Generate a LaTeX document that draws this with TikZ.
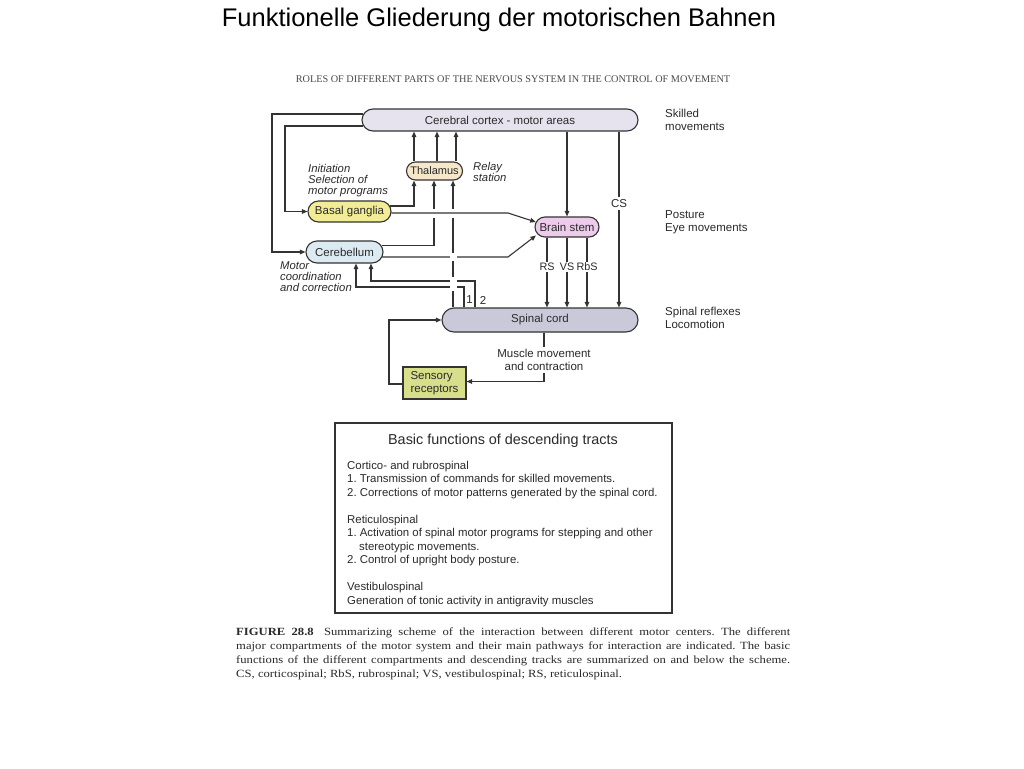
\documentclass[tikz,border=0pt]{standalone}
\usepackage{fontspec}
\setmainfont{Liberation Sans}
\newfontfamily\capserif{Liberation Serif}
\newfontfamily\capwide[FakeStretch=1.15]{Liberation Serif}
\usetikzlibrary{arrows.meta}
\definecolor{ln}{HTML}{333333}
\definecolor{tx}{HTML}{2A2A2A}
\definecolor{cxfill}{HTML}{E6E3EE}
\definecolor{thfill}{HTML}{F6E6CA}
\definecolor{bgfill}{HTML}{F2EC96}
\definecolor{bsfill}{HTML}{ECCBEB}
\definecolor{cbfill}{HTML}{DCEBF2}
\definecolor{scfill}{HTML}{C9C9D9}
\definecolor{srfill}{HTML}{D8DF8A}
\definecolor{hd}{HTML}{4A4A4A}
\newcommand\dgfont{\fontsize{11.5}{13}\selectfont}
\newcommand\itlfont{\fontsize{11.3}{11}\selectfont\itshape}
\newcommand\bxfont{\fontsize{11.4}{13.5}\selectfont\frenchspacing}
\newcommand\cpfont{\capwide\fontsize{11}{14}\selectfont\frenchspacing}
\tikzset{
  pill/.style={draw=ln, line width=1.1pt, inner sep=0pt, font=\dgfont, text=tx},
  lbl/.style={font=\dgfont, text=tx, inner sep=1pt, align=left},
  tlbl/.style={font=\fontsize{10.8}{13}\selectfont, text=tx, fill=white, inner sep=1pt, text height=8pt, text depth=0.5pt},
  ilbl/.style={font=\itlfont, text=tx, inner sep=0pt, align=left, anchor=west},
  arr/.style={draw=ln, line width=1.1pt, -{Triangle[length=5.5pt,width=4.5pt]}},
  con/.style={draw=ln, line width=1.1pt},
  gap/.style={fill=white, draw=none},
  capline/.style={font=\cpfont, text=tx, inner sep=0pt, anchor=base west}
}
\begin{document}
\begin{tikzpicture}[x=1pt,y=-1pt]
\useasboundingbox[fill=white] (0,0) rectangle (1024,768);

% title and header
\node[font=\fontsize{25.5}{30}\selectfont, inner sep=0pt] (title) at (499,20) {Funktionelle Gliederung der motorischen Bahnen};
\node[font=\capserif\fontsize{10.25}{12}\selectfont, text=hd, inner sep=0pt] (head) at (513,79) {ROLES OF DIFFERENT PARTS OF THE NERVOUS SYSTEM IN THE CONTROL OF MOVEMENT};

% boxes
\node[pill, fill=cxfill, minimum width=276pt, minimum height=22pt, rounded corners=11pt] (cx) at (500,120) {Cerebral cortex - motor areas};
\node[pill, fill=thfill, minimum width=56pt, minimum height=18pt, rounded corners=9pt, font=\fontsize{11}{13}\selectfont] (th) at (434.5,171) {Thalamus};
\node[pill, fill=bgfill, minimum width=83pt, minimum height=21pt, rounded corners=10.5pt] (bg) at (349.5,211.5) {Basal ganglia};
\node[pill, fill=bsfill, minimum width=64pt, minimum height=20pt, rounded corners=10pt] (bs) at (567,227) {Brain stem};
\node[pill, fill=cbfill, minimum width=77pt, minimum height=22pt, rounded corners=11pt] (cb) at (344.5,252) {Cerebellum};
\node[pill, fill=scfill, minimum width=196pt, minimum height=24pt, rounded corners=12pt] (sc) at (540,320) {Spinal cord};
\node[pill, fill=srfill, minimum width=63pt, minimum height=32pt, align=left] (sr) at (434.5,383) {Sensory\\receptors};

% side labels
\node[lbl, anchor=west] (lsk) at (664,120) {Skilled\\movements};
\node[lbl, anchor=west] (lpo) at (664,222) {Posture\\Eye movements};
\node[lbl, anchor=west] (lsr) at (664,318) {Spinal reflexes\\Locomotion};
\node[ilbl] (lrel) at (473,171.5) {Relay\\station};
\node[ilbl] (lini) at (308,181) {Initiation\\Selection of\\motor programs};
\node[ilbl] (lmot) at (280,277) {Motor\\coordination\\and correction};

% x positions
\coordinate (L1) at (272,0);
\coordinate (L2) at (285,0);
\coordinate (L3) at (389,0);
\coordinate (tA) at (414,0);
\coordinate (tB) at (437,0);
\coordinate (tC) at (456,0);
\coordinate (bA) at (434,0);
\coordinate (bB) at (453,0);
\coordinate (xCS) at (619,0);
\coordinate (xRS) at (547,0);
\coordinate (xVS) at (567,0);
\coordinate (xRbS) at (587,0);
\coordinate (K1) at (508,213);
\coordinate (K2) at (508,257);
\coordinate (P1) at (464,287);
\coordinate (Q1) at (356,287);
\coordinate (P2) at (475,281);
\coordinate (Q2) at (371,281);

% cortex loops
\draw[arr] ([xshift=2pt,yshift=6pt]cx.west) -| (L1 |- cb.west) -- (cb.west);
\draw[arr] ([xshift=2pt,yshift=-6pt]cx.west) -| (L2 |- bg.west) -- (bg.west);

% thalamus -> cortex
\draw[arr] (th.north -| tA) -- (cx.south -| tA);
\draw[arr] (th.north -| tB) -- (cx.south -| tB);
\draw[arr] (th.north -| tC) -- (cx.south -| tC);

% basal ganglia -> thalamus
\draw[arr] ([xshift=-1.5pt,yshift=5.5pt]bg.east) -| (tA |- th.south);
% cerebellum -> thalamus
\draw[arr] ([xshift=-2pt,yshift=6.5pt]cb.east) -| (bA |- th.south);
% spinal cord -> thalamus
\draw[arr] (sc.north -| bB) -- (th.south -| bB);

% gaps where the basal ganglia line crosses
\fill[gap] (431.5,208.5) rectangle (436.5,217.5);
\fill[gap] (450.5,208.5) rectangle (455.5,217.5);

% basal ganglia -> brain stem
\draw[arr] ([xshift=-0.3pt,yshift=-1.5pt]bg.east) -- (K1) -- ([xshift=1.3pt,yshift=5pt]bs.west);
% cerebellum -> brain stem
\draw[arr] ([xshift=-1.5pt,yshift=-5pt]cb.east) -- (K2) -- ([xshift=1.5pt,yshift=-8.5pt]bs.west);

% spinal cord -> cerebellum
\draw[arr] (sc.north -| P1) -- (P1) -- (Q1) -- (cb.south -| Q1);
\draw[arr] (sc.north -| P2) -- (P2) -- (Q2) -- (cb.south -| Q2);
\node[lbl, inner sep=0pt] (n1) at (469.5,300) {1};
\node[lbl, inner sep=0pt] (n2) at (483,300) {2};

% crossing gaps
\fill[gap] (449.5,253) rectangle (456.5,261);
\fill[gap] (449.5,277) rectangle (456.5,291);

% cortex -> brain stem, CS
\draw[arr] (cx.south -| bs.north) -- (bs.north);
\draw[arr] (cx.south -| xCS) -- node[tlbl, pos=0.41, inner sep=2pt, font=\dgfont] (lcs) {CS} (sc.north -| xCS);

% brain stem -> spinal cord
\draw[arr] (bs.south -| xRS) -- node[tlbl, pos=0.42] (lrs) {RS} (sc.north -| xRS);
\draw[arr] (bs.south -| xVS) -- node[tlbl, pos=0.42] (lvs) {VS} (sc.north -| xVS);
\draw[arr] (bs.south -| xRbS) -- node[tlbl, pos=0.42] (lrbs) {RbS} (sc.north -| xRbS);

% spinal cord <-> sensory receptors
\node[lbl, align=center, inner sep=2pt] (mm) at (544,360) {Muscle movement\\and contraction};
\draw[con] (sc.south -| mm) -- (mm.north);
\draw[arr] (mm.south) |- ([yshift=1.5pt]sr.east);
\draw[arr] ([yshift=-1pt]sr.west) -| (L3 |- sc.west) -- (sc.west);

% functions box
\node[draw=ln, line width=1.1pt, minimum width=337pt, minimum height=190pt, inner sep=0pt] (fb) at (503.5,518) {};
\node[font=\fontsize{14.4}{16}\selectfont, text=tx, inner sep=0pt] (fbt) at (503,441) {Basic functions of descending tracts};
\node[font=\bxfont, text=tx, inner sep=0pt, align=left, anchor=north west] (fbb) at (347,461) {Cortico- and rubrospinal\\
1. Transmission of commands for skilled movements.\\
2. Corrections of motor patterns generated by the spinal cord.\\[13.5pt]
Reticulospinal\\
1. Activation of spinal motor programs for stepping and other\\
\hspace*{12pt}stereotypic movements.\\
2. Control of upright body posture.\\[13.5pt]
Vestibulospinal\\
Generation of tonic activity in antigravity muscles};

% caption
\node[capline] (cap1) at (236,635) {\makebox[554pt][s]{\textbf{FIGURE 28.8}\hspace{4pt} Summarizing scheme of the interaction between different motor centers. The different}};
\node[capline] (cap2) at (236,649) {\makebox[554pt][s]{major compartments of the motor system and their main pathways for interaction are indicated. The basic}};
\node[capline] (cap3) at (236,663) {\makebox[554pt][s]{functions of the different compartments and descending tracks are summarized on and below the scheme.}};
\node[capline] (cap4) at (236,677) {CS, corticospinal; RbS, rubrospinal; VS, vestibulospinal; RS, reticulospinal.};
\end{tikzpicture}
\end{document}
